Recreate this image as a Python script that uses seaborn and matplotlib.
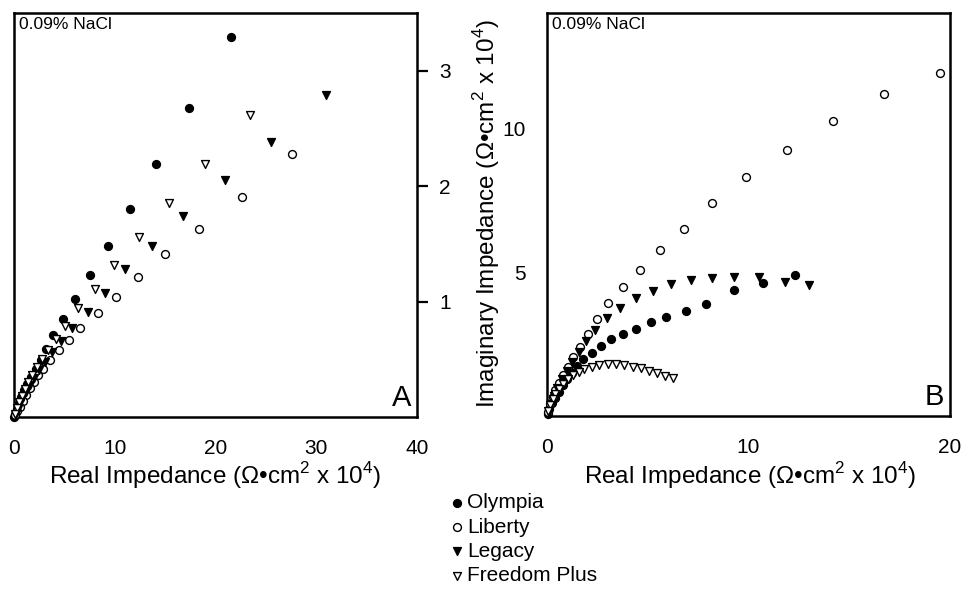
import matplotlib
matplotlib.use("Agg")
import matplotlib.pyplot as plt
import seaborn as sns
import pandas as pd

# ---- data: panel A (x = real, y = imaginary, Ohm*cm^2 x 10^4) ----
a_olympia_x = [21.5, 17.4, 14.1, 11.5, 9.3, 7.5, 6.1, 4.9, 3.9, 3.2, 2.65, 2.15, 1.7, 1.3, 1.0, 0.7, 0.45, 0.25, 0.1, 0.0]
a_olympia_y = [3.29, 2.68, 2.19, 1.80, 1.48, 1.23, 1.02, 0.85, 0.71, 0.59, 0.49, 0.42, 0.35, 0.29, 0.23, 0.17, 0.12, 0.07, 0.03, 0.0]
a_liberty_x = [27.6, 22.6, 18.4, 15.0, 12.3, 10.1, 8.3, 6.6, 5.5, 4.5, 3.6, 2.9, 2.4, 2.0, 1.6, 1.2, 0.9, 0.6, 0.3, 0.1]
a_liberty_y = [2.28, 1.91, 1.63, 1.41, 1.21, 1.04, 0.90, 0.77, 0.67, 0.58, 0.49, 0.42, 0.36, 0.30, 0.25, 0.19, 0.14, 0.09, 0.05, 0.02]
a_legacy_x = [31.0, 25.5, 20.9, 16.8, 13.7, 11.0, 9.0, 7.3, 5.8, 4.7, 3.8, 3.1, 2.5, 2.0, 1.6, 1.2, 0.9, 0.6, 0.35, 0.15]
a_legacy_y = [2.79, 2.38, 2.05, 1.74, 1.48, 1.28, 1.07, 0.91, 0.77, 0.66, 0.56, 0.48, 0.41, 0.34, 0.28, 0.22, 0.17, 0.12, 0.07, 0.03]
a_freedom_x = [23.4, 19.0, 15.4, 12.4, 9.9, 8.0, 6.4, 5.1, 4.2, 3.4, 2.8, 2.3, 1.8, 1.4, 1.1, 0.8, 0.5, 0.3, 0.1]
a_freedom_y = [2.62, 2.19, 1.85, 1.56, 1.32, 1.11, 0.94, 0.79, 0.68, 0.58, 0.50, 0.43, 0.36, 0.30, 0.24, 0.18, 0.13, 0.08, 0.03]

# ---- data: panel B ----
b_olympia_x = [12.3, 10.7, 9.3, 7.9, 6.9, 5.9, 5.16, 4.4, 3.76, 3.18, 2.67, 2.23, 1.81, 1.51, 1.24, 1.0, 0.78, 0.58, 0.4, 0.25, 0.12, 0.03]
b_olympia_y = [4.9, 4.63, 4.37, 3.89, 3.66, 3.45, 3.25, 3.01, 2.85, 2.66, 2.43, 2.2, 1.98, 1.74, 1.5, 1.28, 1.06, 0.85, 0.64, 0.44, 0.25, 0.08]
b_liberty_x = [19.5, 16.7, 14.2, 11.9, 9.9, 8.2, 6.8, 5.6, 4.6, 3.76, 3.05, 2.48, 2.03, 1.65, 1.28, 1.02, 0.8, 0.6, 0.42, 0.28, 0.15, 0.05]
b_liberty_y = [11.9, 11.2, 10.25, 9.25, 8.3, 7.4, 6.5, 5.76, 5.07, 4.47, 3.93, 3.36, 2.85, 2.41, 2.04, 1.71, 1.42, 1.15, 0.9, 0.65, 0.4, 0.15]
b_legacy_x = [13.0, 11.8, 10.5, 9.3, 8.2, 7.15, 6.15, 5.25, 4.4, 3.63, 2.97, 2.39, 1.95, 1.57, 1.24, 0.97, 0.73, 0.52, 0.35, 0.2, 0.08]
b_legacy_y = [4.55, 4.66, 4.82, 4.84, 4.79, 4.72, 4.57, 4.35, 4.09, 3.74, 3.39, 2.99, 2.62, 2.23, 1.89, 1.57, 1.27, 0.98, 0.7, 0.42, 0.15]
b_freedom_x = [6.24, 5.86, 5.48, 5.08, 4.67, 4.26, 3.84, 3.43, 3.02, 2.6, 2.23, 1.86, 1.57, 1.27, 1.02, 0.8, 0.6, 0.42, 0.28, 0.16, 0.06]
b_freedom_y = [1.31, 1.39, 1.48, 1.57, 1.66, 1.71, 1.77, 1.81, 1.81, 1.77, 1.71, 1.63, 1.54, 1.42, 1.28, 1.12, 0.95, 0.77, 0.58, 0.38, 0.18]

series_names = ["Olympia", "Liberty", "Legacy", "Freedom Plus"]
series_markers = {"Olympia": "o", "Liberty": "o", "Legacy": "v", "Freedom Plus": "v"}
series_faces = {"Olympia": "black", "Liberty": "white", "Legacy": "black", "Freedom Plus": "white"}

panel_a = {"Olympia": (a_olympia_x, a_olympia_y), "Liberty": (a_liberty_x, a_liberty_y),
           "Legacy": (a_legacy_x, a_legacy_y), "Freedom Plus": (a_freedom_x, a_freedom_y)}
panel_b = {"Olympia": (b_olympia_x, b_olympia_y), "Liberty": (b_liberty_x, b_liberty_y),
           "Legacy": (b_legacy_x, b_legacy_y), "Freedom Plus": (b_freedom_x, b_freedom_y)}

sns.set_style("white")
plt.rcParams["font.family"] = ["Liberation Sans", "DejaVu Sans"]
plt.rcParams["mathtext.fontset"] = "custom"
plt.rcParams["mathtext.rm"] = "Liberation Sans"
plt.rcParams["text.color"] = "black"
plt.rcParams["axes.labelcolor"] = "black"
plt.rcParams["xtick.color"] = "black"
plt.rcParams["ytick.color"] = "black"

fig = plt.figure(figsize=(9.64, 5.89), dpi=100)
ax_a = fig.add_axes([14 / 964, 1 - 417 / 589, 403 / 964, 404 / 589])
ax_b = fig.add_axes([547 / 964, 1 - 416 / 589, 403 / 964, 403 / 589])


def draw_panel(ax, panel):
    for name in series_names:
        xs, ys = panel[name]
        df = pd.DataFrame({"x": xs, "y": ys})
        sns.scatterplot(data=df, x="x", y="y", ax=ax, marker=series_markers[name],
                        color=series_faces[name], edgecolor="black", linewidth=1.0,
                        s=32, label=name, legend=False, zorder=3, clip_on=False)
    for sp in ax.spines.values():
        sp.set_linewidth(1.8)
        sp.set_color("black")
    ax.tick_params(direction="out", length=8, width=1.6, labelsize=15, colors="black")
    ax.tick_params(axis="x", pad=8)
    ax.set_xlabel("")
    ax.set_ylabel("")


draw_panel(ax_a, panel_a)
ax_a.set_xlim(0, 40)
ax_a.set_ylim(0, 3.5)
ax_a.set_xticks([0, 10, 20, 30, 40])
ax_a.set_yticks([1, 2, 3])
ax_a.yaxis.tick_right()
ax_a.tick_params(axis="y", left=False, right=True, labelleft=False, labelright=True, pad=8)
ax_a.text(0.012, 0.99, "0.09% NaCl", transform=ax_a.transAxes, ha="left", va="top", fontsize=12.5)
ax_a.text(0.985, 0.012, "A", transform=ax_a.transAxes, ha="right", va="bottom", fontsize=21)

draw_panel(ax_b, panel_b)
ax_b.set_xlim(0, 20)
ax_b.set_ylim(0, 14)
ax_b.set_xticks([0, 10, 20])
ax_b.set_yticks([5, 10])
ax_b.tick_params(axis="y", pad=7)
ax_b.text(0.012, 0.99, "0.09% NaCl", transform=ax_b.transAxes, ha="left", va="top", fontsize=12.5)
ax_b.text(0.985, 0.012, "B", transform=ax_b.transAxes, ha="right", va="bottom", fontsize=21)

xlab = "Real Impedance (\u03a9\u2022cm$^2$ x 10$^4$)"
fig.text(215 / 964, 1 - 476 / 589, xlab, ha="center", va="center", fontsize=17.5)
fig.text(750 / 964, 1 - 476 / 589, xlab, ha="center", va="center", fontsize=17.5)
fig.text(487 / 964, 1 - 214 / 589, "Imaginary Impedance (\u03a9\u2022cm$^2$ x 10$^4$)",
         ha="center", va="center", rotation=90, fontsize=17.5)

handles, labels = ax_a.get_legend_handles_labels()
fig.legend(handles, labels, loc="upper left", bbox_to_anchor=(437 / 964, 1 - 483 / 589),
           frameon=False, fontsize=15, handletextpad=0.05, labelspacing=0.25,
           handlelength=0.9, borderpad=0)

plt.savefig("out.png", dpi=100)
plt.close()
